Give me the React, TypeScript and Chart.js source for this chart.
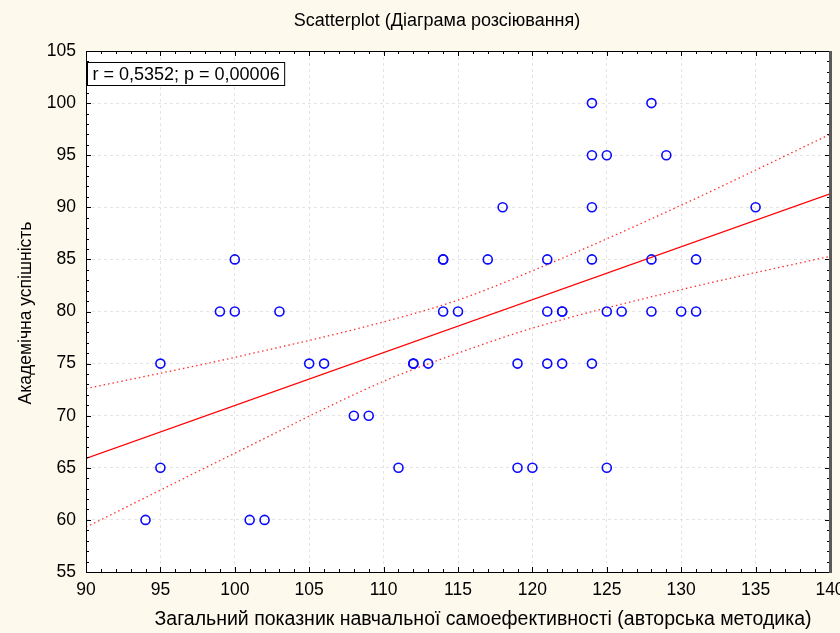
import React, { useEffect, useRef } from "react";
import { Chart, registerables } from "chart.js";

Chart.register(...registerables);

const TITLE = "Scatterplot (Діаграма розсіювання)";
const X_TITLE = "Загальний показник навчальної самоефективності (авторська методика)";
const Y_TITLE = "Академічна успішність";
const STAT_TEXT = "r = 0,5352; p = 0,00006";

const selfEfficacy = [
  124, 128,
  124, 125, 129,
  118, 124, 135,
  100, 114, 114, 117, 121, 124, 128, 131,
  99, 100, 103, 114, 115, 121, 122, 122, 125, 126, 128, 130, 131,
  95, 105, 106, 112, 112, 113, 119, 121, 122, 124,
  108, 109,
  95, 111, 119, 120, 125,
  94, 101, 102,
];
const performance = [
  100, 100,
  95, 95, 95,
  90, 90, 90,
  85, 85, 85, 85, 85, 85, 85, 85,
  80, 80, 80, 80, 80, 80, 80, 80, 80, 80, 80, 80, 80,
  75, 75, 75, 75, 75, 75, 75, 75, 75, 75,
  70, 70,
  65, 65, 65, 65, 65,
  60, 60, 60,
];

const fitX = [90, 140];
const fitY = [65.9, 91.3];
const bandX = [90, 100, 110, 115, 120, 130, 140];
const bandUpper = [72.6, 75.6, 79.0, 81.1, 83.9, 90.2, 97.0];
const bandLower = [59.3, 66.4, 73.3, 76.0, 78.4, 82.1, 85.3];

const X_MIN = 90, X_MAX = 140, Y_MIN = 55, Y_MAX = 105;
const FONT = "'Liberation Sans', Arial, sans-serif";
const CREAM = "#fdf9ec";

const framePlugin = {
  id: "frame",
  beforeDraw(chart: any) {
    const { ctx, chartArea: a } = chart;
    ctx.save();
    ctx.fillStyle = CREAM;
    ctx.fillRect(0, 0, chart.width, chart.height);
    ctx.fillStyle = "#ffffff";
    ctx.fillRect(a.left, a.top, a.right - a.left, a.bottom - a.top);
    ctx.restore();
  },
  afterDraw(chart: any) {
    const { ctx, chartArea: a, scales } = chart;
    const xs = scales.x, ys = scales.y;
    ctx.save();
    ctx.strokeStyle = "#000";
    ctx.lineWidth = 1;
    ctx.beginPath();
    ctx.moveTo(a.left + 0.5, a.top + 0.5);
    ctx.lineTo(a.right, a.top + 0.5);
    ctx.moveTo(a.left + 0.5, a.top);
    ctx.lineTo(a.left + 0.5, a.bottom + 0.5);
    ctx.lineTo(a.right, a.bottom + 0.5);
    ctx.stroke();
    // ticks
    ctx.beginPath();
    for (let v = X_MIN; v <= X_MAX; v++) {
      const px = Math.round(xs.getPixelForValue(v)) + 0.5;
      const len = v % 5 === 0 ? 5 : 3;
      ctx.moveTo(px, a.bottom);
      ctx.lineTo(px, a.bottom - len);
      ctx.moveTo(px, a.top);
      ctx.lineTo(px, a.top + len);
    }
    for (let v = Y_MIN; v <= Y_MAX; v++) {
      const py = Math.round(ys.getPixelForValue(v)) + 0.5;
      const len = v % 5 === 0 ? 5 : 3;
      ctx.moveTo(a.left, py);
      ctx.lineTo(a.left + len, py);
      ctx.moveTo(a.right, py);
      ctx.lineTo(a.right - len, py);
    }
    ctx.stroke();
    // right thick border
    ctx.fillStyle = "#5a5a5a";
    ctx.fillRect(a.right - 1, a.top, 3, a.bottom - a.top + 1);
    // stat box
    ctx.font = `18px ${FONT}`;
    const tw = ctx.measureText(STAT_TEXT).width;
    const bx = a.left + 1.5, by = a.top + 11.5, bh = 23, bw = tw + 10;
    ctx.fillStyle = "#fff";
    ctx.fillRect(bx, by, bw, bh);
    ctx.strokeStyle = "#000";
    ctx.strokeRect(bx, by, bw, bh);
    ctx.fillStyle = "#000";
    ctx.textBaseline = "middle";
    ctx.textAlign = "left";
    ctx.fillText(STAT_TEXT, bx + 5, by + bh / 2 + 1);
    // title
    ctx.font = `18px ${FONT}`;
    ctx.textAlign = "center";
    ctx.fillText(TITLE, 437, 21);
    // x title
    ctx.font = `19.5px ${FONT}`;
    ctx.fillText(X_TITLE, 483, 620);
    // y title
    ctx.font = `17.5px ${FONT}`;
    ctx.translate(26, 313);
    ctx.rotate(-Math.PI / 2);
    ctx.fillText(Y_TITLE, 0, 0);
    ctx.restore();
  },
};

export default function App() {
  const ref = useRef<HTMLCanvasElement>(null);
  useEffect(() => {
    if (!ref.current) return;
    const points = selfEfficacy.map((x, i) => ({ x, y: performance[i] }));
    const fit = fitX.map((x, i) => ({ x, y: fitY[i] }));
    const up = bandX.map((x, i) => ({ x, y: bandUpper[i] }));
    const lo = bandX.map((x, i) => ({ x, y: bandLower[i] }));
    const chart = new Chart(ref.current, {
      type: "scatter",
      data: {
        datasets: [
          {
            type: "line",
            data: up,
            borderColor: "#ff3030",
            borderWidth: 1.3,
            borderDash: [1.5, 3],
            pointRadius: 0,
            fill: false,
            cubicInterpolationMode: "monotone",
            order: 2,
          } as any,
          {
            type: "line",
            data: lo,
            borderColor: "#ff3030",
            borderWidth: 1.3,
            borderDash: [1.5, 3],
            pointRadius: 0,
            fill: false,
            cubicInterpolationMode: "monotone",
            order: 2,
          } as any,
          {
            type: "line",
            data: fit,
            borderColor: "#ff0000",
            borderWidth: 1.3,
            pointRadius: 0,
            fill: false,
            order: 1,
          } as any,
          {
            data: points,
            pointRadius: 4.5,
            pointBorderWidth: 1.6,
            pointBorderColor: "#0a0aff",
            pointBackgroundColor: "rgba(0,0,0,0)",
            order: 0,
          } as any,
        ],
      },
      options: {
        animation: false,
        responsive: false,
        maintainAspectRatio: false,
        layout: { padding: { top: 51, right: 10, left: 0, bottom: 0 } },
        plugins: {
          legend: { display: false },
          title: { display: false },
          tooltip: { enabled: false },
        },
        scales: {
          x: {
            type: "linear",
            min: X_MIN,
            max: X_MAX,
            ticks: {
              stepSize: 5,
              color: "#000",
              font: { family: FONT, size: 17.5 },
              padding: 8,
              maxRotation: 0,
            },
            grid: { color: "#e4e4e4", drawTicks: false },
            border: { display: false, dash: [3, 3] },
            afterFit: (s: any) => {
              s.height = 61;
              s.paddingRight = 0;
              s.paddingLeft = 0;
            },
          },
          y: {
            type: "linear",
            min: Y_MIN,
            max: Y_MAX,
            ticks: {
              stepSize: 5,
              color: "#000",
              font: { family: FONT, size: 17.5 },
              padding: 10,
            },
            grid: { color: "#e4e4e4", drawTicks: false },
            border: { display: false, dash: [3, 3] },
            afterFit: (s: any) => {
              s.width = 86;
              s.paddingTop = 0;
              s.paddingBottom = 0;
            },
          },
        },
      },
      plugins: [framePlugin],
    });
    return () => chart.destroy();
  }, []);
  return (
    <div style={{ position: "fixed", left: 0, top: 0, width: 840, height: 633, background: CREAM }}>
      <canvas ref={ref} width={840} height={633} style={{ display: "block" }} />
    </div>
  );
}
